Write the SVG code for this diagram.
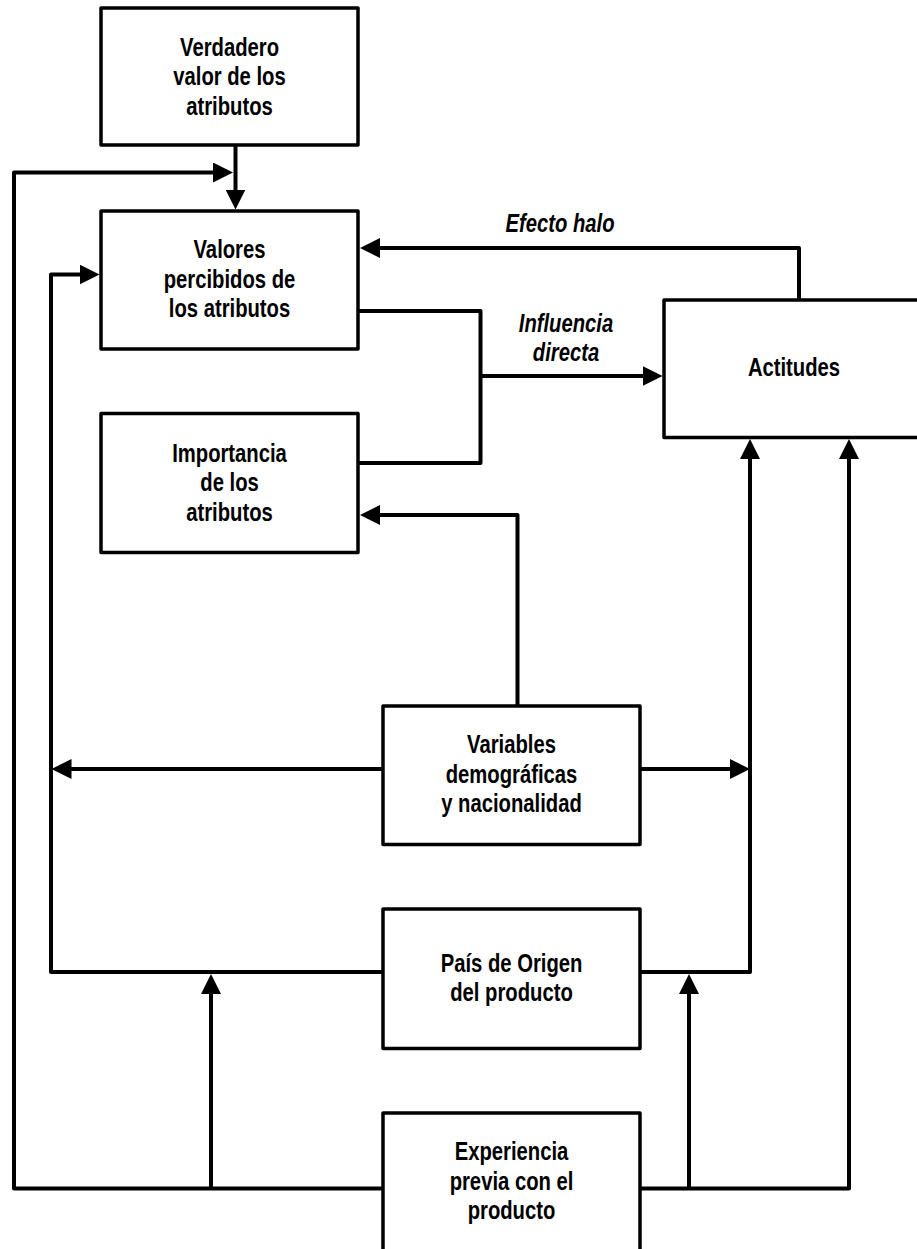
<svg xmlns="http://www.w3.org/2000/svg" width="917" height="1249" viewBox="0 0 917 1249">
  <style>
    .box { fill: #fff; stroke: #000; stroke-width: 3.5; stroke-linejoin: round; }
    .wire { fill: none; stroke: #000; stroke-width: 4; stroke-linejoin: round; }
    .lbl { font-family: "Liberation Sans", Arial, sans-serif; font-weight: bold; font-size: 25px; fill: #000; text-anchor: middle; }
    .edge { font-style: italic; }
  </style>
  <defs>
    <marker id="arr" viewBox="0 0 20 20" markerWidth="20" markerHeight="20" markerUnits="userSpaceOnUse" refX="12" refY="10" orient="auto">
      <path d="M0,0 L20,10 L0,20 Z" fill="#000"/>
    </marker>
  </defs>

  <!-- connectors; labels are narrowed with a horizontal scale -->
  <g id="connectors">
    <path class="wire" d="M235.5,145 V201.5" marker-end="url(#arr)"/>
    <path class="wire" d="M383,1188.5 H14 V172.5 H225" marker-end="url(#arr)"/>
    <path class="wire" d="M383,972 H51 V274.5 H91.5" marker-end="url(#arr)"/>
    <path class="wire" d="M799,300 V248 H368" marker-end="url(#arr)"/>
    <path class="wire" d="M358,311 H480.5 V463 H358"/>
    <path class="wire" d="M480.5,376 H654.5" marker-end="url(#arr)"/>
    <path class="wire" d="M517.5,706 V515 H368" marker-end="url(#arr)"/>
    <path class="wire" d="M383,769 H59.5" marker-end="url(#arr)"/>
    <path class="wire" d="M640,769 H742" marker-end="url(#arr)"/>
    <path class="wire" d="M640,972 H750 V447" marker-end="url(#arr)"/>
    <path class="wire" d="M640,1188.5 H849 V447" marker-end="url(#arr)"/>
    <path class="wire" d="M211,1188.5 V982" marker-end="url(#arr)"/>
    <path class="wire" d="M689,1188.5 V982" marker-end="url(#arr)"/>
    <text class="lbl edge" transform="translate(560,232) scale(0.81,1)">Efecto halo</text>
    <text class="lbl edge" transform="translate(566,332) scale(0.81,1)">Influencia</text>
    <text class="lbl edge" transform="translate(566,361) scale(0.81,1)">directa</text>
  </g>

  <g id="verdadero">
    <rect class="box" x="101" y="8" width="257" height="137"/>
    <text class="lbl" transform="translate(229.5,55.5) scale(0.81,1)">Verdadero</text>
    <text class="lbl" transform="translate(229.5,85) scale(0.81,1)">valor de los</text>
    <text class="lbl" transform="translate(229.5,114.5) scale(0.81,1)">atributos</text>
  </g>

  <g id="percibidos">
    <rect class="box" x="101" y="211" width="257" height="138"/>
    <text class="lbl" transform="translate(229.5,258) scale(0.81,1)">Valores</text>
    <text class="lbl" transform="translate(229.5,288) scale(0.81,1)">percibidos de</text>
    <text class="lbl" transform="translate(229.5,317) scale(0.81,1)">los atributos</text>
  </g>

  <g id="importancia">
    <rect class="box" x="101" y="413.5" width="257" height="139"/>
    <text class="lbl" transform="translate(229.5,461.5) scale(0.81,1)">Importancia</text>
    <text class="lbl" transform="translate(229.5,491) scale(0.81,1)">de los</text>
    <text class="lbl" transform="translate(229.5,520.5) scale(0.81,1)">atributos</text>
  </g>

  <g id="actitudes">
    <rect class="box" x="664" y="300" width="262" height="137.5"/>
    <text class="lbl" transform="translate(794,376) scale(0.81,1)">Actitudes</text>
  </g>

  <g id="demograficas">
    <rect class="box" x="383" y="706" width="257" height="138.5"/>
    <text class="lbl" transform="translate(511.5,753) scale(0.81,1)">Variables</text>
    <text class="lbl" transform="translate(511.5,782.5) scale(0.81,1)">demográficas</text>
    <text class="lbl" transform="translate(511.5,812) scale(0.81,1)">y nacionalidad</text>
  </g>

  <g id="pais">
    <rect class="box" x="383" y="909" width="257" height="139.5"/>
    <text class="lbl" transform="translate(511.5,971.5) scale(0.81,1)">País de Origen</text>
    <text class="lbl" transform="translate(511.5,1001) scale(0.81,1)">del producto</text>
  </g>

  <g id="experiencia">
    <rect class="box" x="383" y="1113" width="257" height="140"/>
    <text class="lbl" transform="translate(511.5,1160) scale(0.81,1)">Experiencia</text>
    <text class="lbl" transform="translate(511.5,1190) scale(0.81,1)">previa con el</text>
    <text class="lbl" transform="translate(511.5,1219) scale(0.81,1)">producto</text>
  </g>
</svg>
